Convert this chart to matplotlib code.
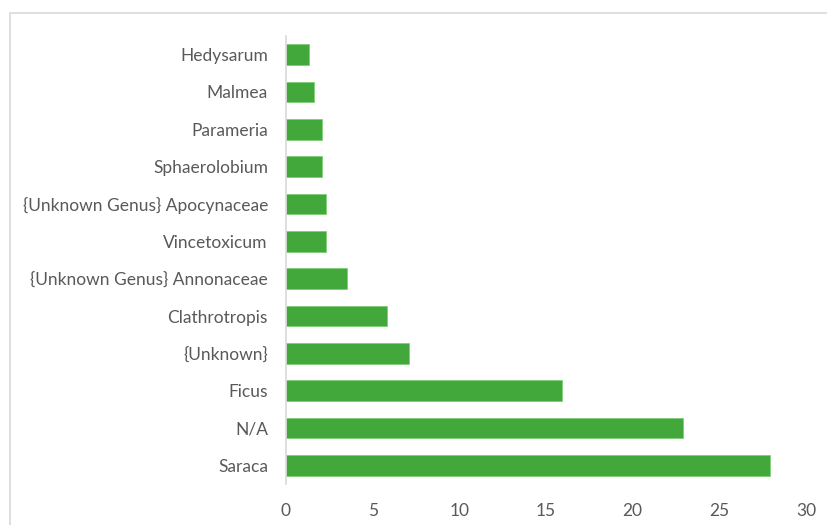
import matplotlib.pyplot as plt
from matplotlib.patches import Rectangle

# data, bottom to top
genera = ['Saraca', 'N/A', 'Ficus', '{Unknown}', 'Clathrotropis',
          '{Unknown Genus} Annonaceae', 'Vincetoxicum',
          '{Unknown Genus} Apocynaceae', 'Sphaerolobium', 'Parameria',
          'Malmea', 'Hedysarum']
values = [27.9, 22.9, 15.9, 7.1, 5.8, 3.5, 2.3, 2.3, 2.1, 2.1, 1.6, 1.3]
xticks = [0, 5, 10, 15, 20, 25, 30]

plt.rcParams['font.family'] = ['Lato', 'DejaVu Sans']
txt = '#595959'

fig = plt.figure(figsize=(8.28, 5.25), dpi=100)
W, H = 828, 525

# chart frame (cropped at right/bottom)
fig.patches.append(Rectangle((10 / W, -0.1), 1.0, (H - 13) / H + 0.1,
                             transform=fig.transFigure, fill=False,
                             edgecolor='#d9d9d9', linewidth=1.2))

ax = fig.add_axes([286 / W, 1 - 484 / H, (806 - 286) / W, (484 - 36) / H])
ax.barh(range(len(genera)), values, height=0.55, color='#43a83b',
        edgecolor='#7fcf75', linewidth=0.6)

ax.set_xlim(0, 30)
ax.set_ylim(-0.5, len(genera) - 0.5)
ax.set_xticks(xticks)
ax.set_yticks(range(len(genera)))
ax.set_yticklabels(genera)

for s in ['top', 'right', 'bottom']:
    ax.spines[s].set_visible(False)
ax.spines['left'].set_color('#d9d9d9')
ax.spines['left'].set_linewidth(1.2)
ax.tick_params(axis='both', length=0, labelsize=12.5, colors=txt)
ax.tick_params(axis='y', pad=13)
ax.tick_params(axis='x', pad=14)

plt.savefig('out.png', dpi=100)
